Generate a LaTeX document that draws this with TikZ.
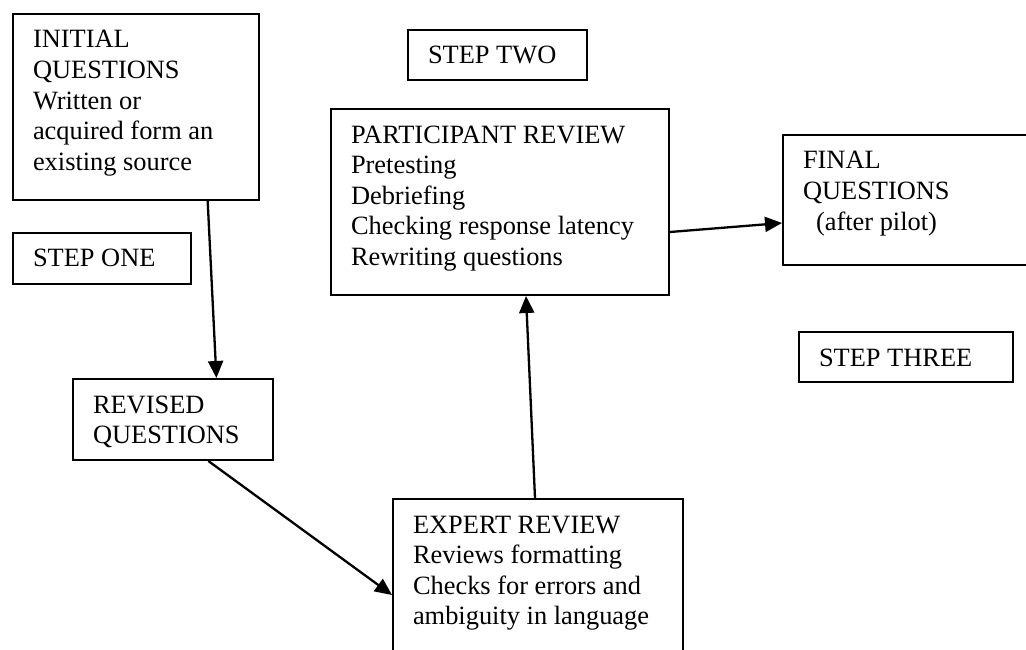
\documentclass[tikz,border=0pt]{standalone}
\usepackage{fontspec}
\setmainfont{Liberation Serif}
\usetikzlibrary{arrows.meta,calc}
\newcommand\boxtxt[3]{\parbox[c][#2][t]{#1}{\rule{0pt}{34pt}#3}}
\tikzset{
  stepbox/.style={draw, line width=2pt, inner xsep=20pt, inner ysep=0pt, anchor=north west,
    font=\fontsize{26.4}{30.6}\selectfont},
  conn/.style={line width=2.3pt, -{Triangle[length=17pt,width=15pt]}}
}
\begin{document}
\begin{tikzpicture}[x=1pt,y=-1pt]
\useasboundingbox (0,0) rectangle (1026,650);
\clip (0,0) rectangle (1026,650);
\fill[white] (0,0) rectangle (1026,650);
\node[stepbox] (init) at (12,13) {\boxtxt{206pt}{186pt}{INITIAL\\QUESTIONS\\Written or\\acquired form an\\existing source}};
\node[stepbox] (one) at (12,232) {\boxtxt{138pt}{51pt}{STEP ONE}};
\node[stepbox] (two) at (407,29) {\boxtxt{139pt}{50pt}{STEP TWO}};
\node[stepbox] (part) at (330,108) {\boxtxt{298pt}{186pt}{PARTICIPANT REVIEW\\Pretesting\\Debriefing\\Checking response latency\\Rewriting questions}};
\node[stepbox] (final) at (782,134) {\boxtxt{218pt}{130pt}{FINAL\\QUESTIONS\\\hspace*{13pt}(after pilot)}};
\node[stepbox] (three) at (798,331) {\boxtxt{174pt}{50pt}{STEP THREE}};
\node[stepbox] (rev) at (72,378) {\boxtxt{160pt}{81pt}{REVISED\\QUESTIONS}};
\node[stepbox] (expert) at (392,498) {\boxtxt{250pt}{172pt}{EXPERT REVIEW\\Reviews formatting\\Checks for errors and\\ambiguity in language}};
\draw[conn] ($(init.south west)!0.789!(init.south east)$) -- ($(rev.north west)!0.715!(rev.north east)$);
\draw[conn] ($(rev.south west)!0.675!(rev.south east)$) -- ($(expert.north west)+(0,97)$);
\draw[conn] ($(expert.north west)+(143,0)$) -- ($(part.south west)+(196,0)$);
\draw[conn] ($(part.north east)+(0,124)$) -- ($(final.north west)+(0,89)$);
\end{tikzpicture}
\end{document}
